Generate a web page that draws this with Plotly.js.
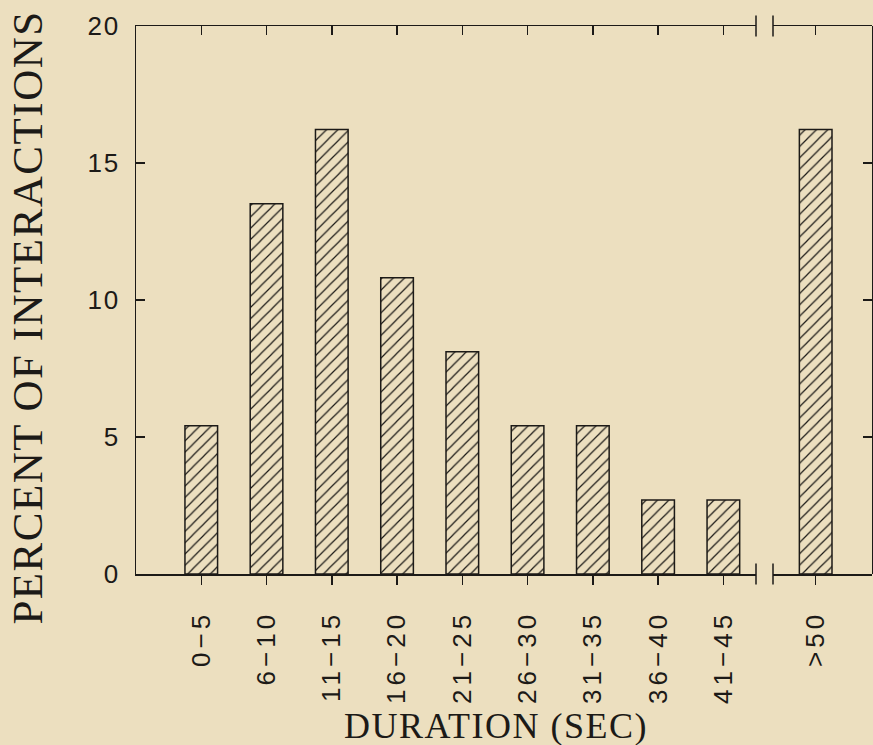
<!DOCTYPE html>
<html>
<head>
<meta charset="utf-8">
<script src="https://cdn.plot.ly/plotly-3.0.1.min.js"></script>
<style>
  html, body { margin: 0; padding: 0; background: #ecdfbf; }
  #chart { width: 873px; height: 745px; }
  .xtick text, .x2tick text { letter-spacing: 4px; }
  .ytick text { letter-spacing: 2px; }
  .annotation-text { letter-spacing: 1.5px; }
</style>
</head>
<body>
<div id="chart"></div>
<script>
// ---- data ----
const categories = ["0\u22125", "6\u221210", "11\u221215", "16\u221220", "21\u221225",
                    "26\u221230", "31\u221235", "36\u221240", "41\u221245", ">50"];
const percent = [5.41, 13.51, 16.22, 10.81, 8.11, 5.41, 5.41, 2.70, 2.70, 16.22];
const yTicks = [0, 5, 10, 15, 20];
const xTitle = "DURATION (SEC)";
const yTitle = "PERCENT OF INTERACTIONS";

// split at the axis break: last category sits beyond the break
const mainCats = categories.slice(0, categories.length - 1);
const mainVals = percent.slice(0, percent.length - 1);
const tailCats = categories.slice(categories.length - 1);
const tailVals = percent.slice(percent.length - 1);
const mainIdx = mainCats.map((c, i) => i);
const tailIdx = tailCats.map((c, i) => i);

const bg = "#ecdfbf";
const ink = "#1c1a17";
const sans = "Liberation Sans, Arial, sans-serif";
const serif = "Liberation Serif, Times New Roman, serif";

const barStyle = {
  color: bg,
  line: { color: ink, width: 1.5 },
  pattern: { shape: "/", fgcolor: ink, bgcolor: bg, size: 8, solidity: 0.15 }
};

// invisible helper traces so the top / right frame axes get drawn
const ghost = { type: "scatter", mode: "markers", marker: { opacity: 0, size: 1 },
                hoverinfo: "skip", showlegend: false };

const traces = [
  { type: "bar", x: mainCats, y: mainVals, xaxis: "x", yaxis: "y",
    width: 0.5, marker: barStyle, hoverinfo: "x+y" },
  { type: "bar", x: tailCats, y: tailVals, xaxis: "x2", yaxis: "y",
    width: 0.5, marker: barStyle, hoverinfo: "x+y" },
  Object.assign({}, ghost, { x: mainIdx, y: mainVals, xaxis: "x3", yaxis: "y" }),
  Object.assign({}, ghost, { x: tailIdx, y: tailVals, xaxis: "x4", yaxis: "y" }),
  Object.assign({}, ghost, { x: tailCats, y: tailVals, xaxis: "x2", yaxis: "y2" })
];

const d1End = 620 / 736;
const d2Start = 637 / 736;
const r1 = [-1, 8.5];
const r2 = [-0.654, 0.863];

const commonX = {
  type: "category",
  showline: true, linecolor: ink, linewidth: 1.5,
  ticks: "outside", ticklen: 9, tickwidth: 1.5, tickcolor: ink,
  tickangle: -90, ticklabelstandoff: 16,
  tickfont: { family: sans, size: 26, color: ink },
  showgrid: false, zeroline: false, fixedrange: true
};

const topX = {
  type: "linear", side: "top", anchor: "y",
  showline: true, linecolor: ink, linewidth: 1.5,
  showgrid: false, zeroline: false, fixedrange: true,
  ticks: "inside", ticklen: 9, tickwidth: 1.5, tickcolor: ink,
  showticklabels: false, tickmode: "array"
};

const commonY = {
  range: [0, 20], tickmode: "array", tickvals: yTicks,
  showline: true, linecolor: ink, linewidth: 1.5,
  ticks: "inside", ticklen: 9, tickwidth: 1.5, tickcolor: ink,
  showgrid: false, zeroline: false, fixedrange: true
};

function breakMark(xp, yp) {
  return { type: "line", xref: "paper", yref: "paper",
           x0: xp, x1: xp, ysizemode: "pixel", yanchor: yp, y0: -10.5, y1: 10.5,
           line: { color: ink, width: 1.5 } };
}

const layout = {
  width: 873, height: 745,
  paper_bgcolor: bg, plot_bgcolor: bg,
  margin: { l: 136, r: 1, t: 26, b: 171 },
  showlegend: false,
  bargap: 0,
  xaxis: Object.assign({}, commonX, { domain: [0, d1End], range: r1, anchor: "y" }),
  xaxis2: Object.assign({}, commonX, { domain: [d2Start, 1], range: r2, anchor: "y" }),
  xaxis3: Object.assign({}, topX, { overlaying: "x", range: r1, tickvals: mainIdx }),
  xaxis4: Object.assign({}, topX, { overlaying: "x2", range: r2, tickvals: tailIdx }),
  yaxis: Object.assign({}, commonY, {
    ticklabelstandoff: 9,
    tickfont: { family: sans, size: 26, color: ink }
  }),
  yaxis2: Object.assign({}, commonY, {
    overlaying: "y", side: "right", anchor: "free", position: 1,
    showticklabels: false
  }),
  shapes: [
    breakMark(d1End, 0), breakMark(d2Start, 0),
    breakMark(d1End, 1), breakMark(d2Start, 1)
  ],
  annotations: [
    { text: yTitle, xref: "paper", yref: "paper", x: 0, y: 0.467,
      xanchor: "center", yanchor: "middle", xshift: -108.5, textangle: -90,
      showarrow: false, font: { family: serif, size: 43, color: ink } },
    { text: xTitle, xref: "paper", yref: "paper", x: 0.489, y: -0.278,
      xanchor: "center", yanchor: "middle",
      showarrow: false, font: { family: serif, size: 36, color: ink } }
  ]
};

Plotly.newPlot("chart", traces, layout, { staticPlot: true, displayModeBar: false });
</script>
</body>
</html>
